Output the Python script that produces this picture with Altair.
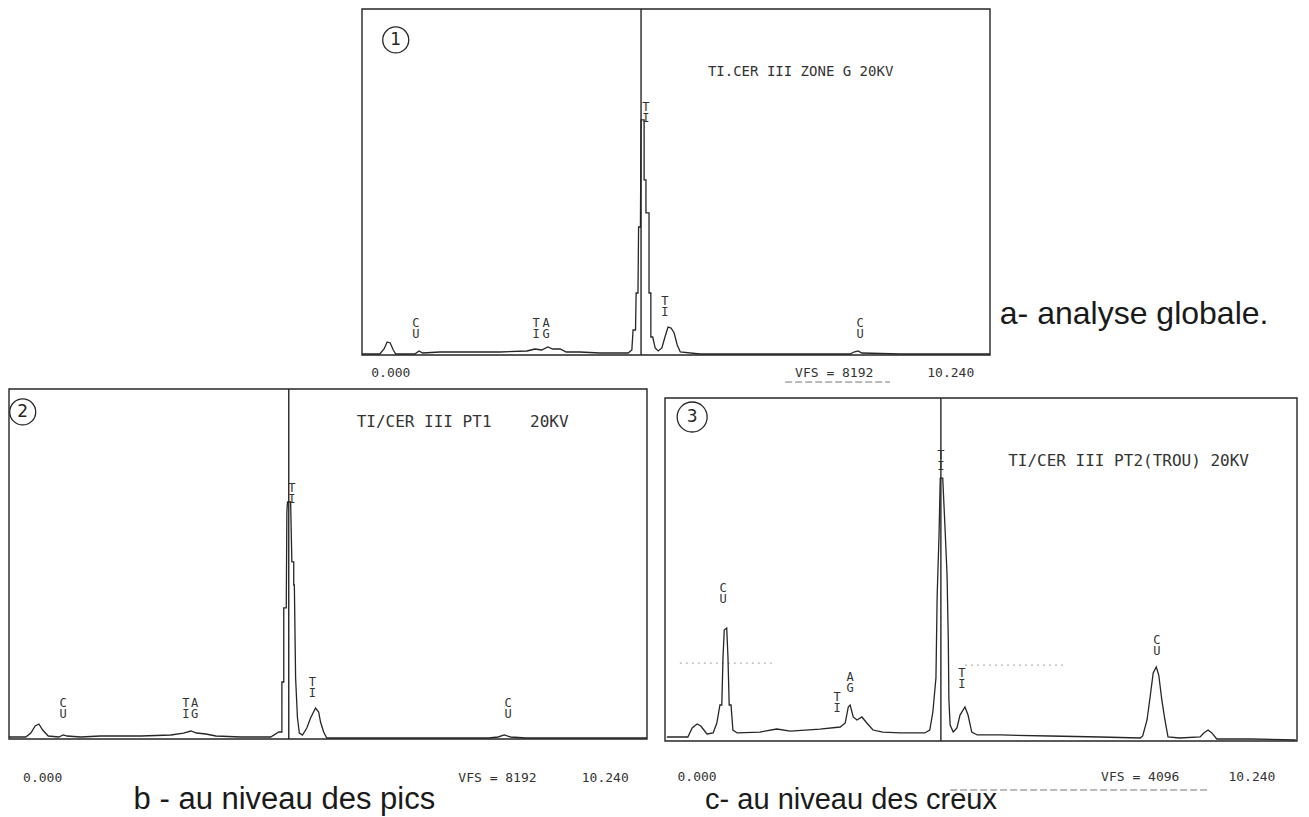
import altair as alt
import pandas as pd

KEV_MAX = 10.24
NB = "\u00a0"

# ---------------- Panel 1 : analyse globale (VFS 8192) ----------------
P1_VFS = 8192
P1_CURSOR = 4.55
P1_E = [0.00, 0.29, 0.36, 0.41, 0.46, 0.51, 0.55, 0.86, 0.93, 0.99, 1.27, 1.76, 2.25, 2.69,
        2.82, 2.93, 3.03, 3.11, 3.23, 3.33, 3.55, 3.88, 4.34, 4.40, 4.42, 4.46, 4.47, 4.50,
        4.51, 4.54, 4.55, 4.60, 4.60, 4.63, 4.63, 4.68, 4.68, 4.71, 4.71, 4.74, 4.78, 4.83,
        4.89, 4.94, 4.99, 5.04, 5.09, 5.14, 5.19, 5.51, 6.82, 7.96, 8.02, 8.09, 8.15, 8.77,
        9.59, 10.24]
P1_C = [24, 24, 142, 308, 284, 118, 24, 24, 95, 47, 71, 71, 71, 95,
        142, 118, 189, 142, 142, 71, 71, 47, 47, 118, 592, 592, 1468, 1468,
        3031, 3031, 5565, 5565, 4144, 4144, 3363, 3363, 1468, 1468, 426, 426, 166, 95,
        166, 426, 663, 639, 521, 237, 71, 24, 24, 24, 71, 95, 47, 24,
        24, 24]
P1_LABEL_T = ["C\nU", "T\nI", "A\nG", "T\nI", "T\nI", "C\nU"]
P1_LABEL_E = [0.88, 2.84, 3.00, 4.63, 4.94, 8.12]
P1_LABEL_C = [758, 758, 758, 5873, 1279, 758]
P1_TITLE = "TI.CER III ZONE G 20KV"
P1_TITLE_E, P1_TITLE_C = 5.64, 6701
P1_NUM, P1_NUM_E, P1_NUM_C = "1", 0.55, 7459
P1_END_T = ["0.000", "VFS = 8192", "10.240"]
P1_END_E = [0.47, 7.70, 9.60]
P1_END_C = [-426, -426, -426]
P1_UNDER_E0, P1_UNDER_E1, P1_UNDER_C = [6.90], [8.61], [-640]
P1_CAPTION, P1_CAP_E, P1_CAP_C = "a- analyse globale.", 10.40, 734

# ---------------- Panel 2 : au niveau des pics (VFS 8192) ----------------
P2_VFS = 8192
P2_CURSOR = 4.49
P2_E = [0.00, 0.27, 0.35, 0.42, 0.48, 0.54, 0.63, 0.80, 0.87, 0.93, 1.15, 1.47, 1.79, 2.12,
        2.60, 2.80, 2.92, 3.01, 3.16, 3.32, 3.72, 4.20, 4.33, 4.38, 4.38, 4.41, 4.41, 4.45,
        4.46, 4.47, 4.52, 4.54, 4.57, 4.57, 4.58, 4.60, 4.63, 4.66, 4.71, 4.78, 4.84, 4.92,
        4.97, 5.00, 5.05, 5.10, 5.40, 6.50, 7.70, 7.85, 7.95, 8.05, 8.30, 9.50, 10.24]
P2_C = [47, 47, 140, 304, 351, 211, 70, 47, 94, 70, 47, 70, 70, 70,
        94, 140, 187, 140, 117, 70, 47, 47, 164, 164, 1334, 1334, 3067, 3067,
        5314, 5548, 5548, 4144, 4144, 3605, 3605, 1428, 492, 140, 94, 258, 492, 726,
        632, 398, 164, 23, 23, 23, 23, 47, 94, 47, 23, 23, 23]
P2_LABEL_T = ["C\nU", "T\nI", "A\nG", "T\nI", "T\nI", "C\nU"]
P2_LABEL_E = [0.87, 2.84, 2.98, 4.54, 4.87, 8.01]
P2_LABEL_C = [843, 843, 843, 5876, 1334, 843]
P2_TITLE = "TI/CER III PT1" + NB * 4 + "20KV"
P2_TITLE_E, P2_TITLE_C = 5.58, 7421
P2_NUM, P2_NUM_E, P2_NUM_C = "2", 0.22, 7655
P2_END_T = ["0.000", "VFS = 8192", "10.240"]
P2_END_E = [0.54, 7.84, 9.57]
P2_END_C = [-913, -913, -913]
P2_CAPTION, P2_CAP_E, P2_CAP_C = "b - au niveau des pics", 2.00, -1639

# ---------------- Panel 3 : au niveau des creux (VFS 4096) ----------------
P3_VFS = 4096
P3_CURSOR = 4.47
P3_E = [0.03, 0.37, 0.44, 0.52, 0.58, 0.68, 0.78, 0.84, 0.89, 0.92, 0.94, 0.96, 1.00, 1.02,
        1.04, 1.07, 1.10, 1.17, 1.54, 1.81, 2.03, 2.51, 2.84, 2.92, 2.97, 3.00, 3.05, 3.11,
        3.19, 3.27, 3.37, 3.53, 3.81, 4.21, 4.29, 4.34, 4.39, 4.41, 4.44, 4.46, 4.50, 4.54,
        4.57, 4.59, 4.60, 4.62, 4.67, 4.73, 4.78, 4.86, 4.91, 4.97, 5.06, 5.43, 6.24, 7.05,
        7.70, 7.74, 7.81, 7.86, 7.91, 7.96, 8.00, 8.05, 8.10, 8.15, 8.34, 8.67, 8.73, 8.80,
        8.86, 8.94, 9.48, 10.22]
P3_C = [48, 48, 155, 203, 179, 84, 96, 215, 430, 430, 1003, 1325, 1349, 1003,
        430, 430, 131, 96, 107, 143, 119, 143, 167, 215, 406, 430, 287, 251,
        287, 215, 131, 107, 96, 96, 131, 346, 752, 1743, 2460, 3140, 3140, 2495,
        1982, 1206, 490, 191, 107, 155, 310, 406, 310, 107, 72, 72, 60, 48,
        36, 60, 251, 525, 812, 884, 788, 490, 251, 48, 36, 48, 96, 131,
        96, 24, 24, 12]
P3_LABEL_T = ["C\nU", "T\nI", "A\nG", "T\nI", "T\nI", "C\nU"]
P3_LABEL_E = [0.94, 2.79, 3.00, 4.47, 4.81, 7.97]
P3_LABEL_C = [1827, 525, 764, 3415, 812, 1206]
P3_TITLE = "TI/CER III PT2(TROU) 20KV"
P3_TITLE_E, P3_TITLE_C = 5.56, 3343
P3_NUM, P3_NUM_E, P3_NUM_C = "3", 0.44, 3869
P3_END_T = ["0.000", "VFS = 4096", "10.240"]
P3_END_E = [0.52, 7.70, 9.51]
P3_END_C = [-430, -430, -430]
P3_UNDER_E0, P3_UNDER_E1, P3_UNDER_C = [4.62], [8.83], [-585]
P3_CAPTION, P3_CAP_E, P3_CAP_C = "c- au niveau des creux", 0.65, -812
P3_DOT_E0 = [0.24, 4.86]
P3_DOT_E1 = [1.78, 6.48]
P3_DOT_C = [931, 907]

INK = "#262626"
TXT = "#333333"
MONO = "DejaVu Sans Mono"
SANS = "Liberation Sans"


def panel(E, C, vfs, cursor, lt, le, lc, title, te, tc, title_size, num, ne, nc, num_d,
          end_t, end_e, end_c, under, cap, cap_e, cap_c, cap_size, xr, yr, dots=None):
    assert len(E) == len(C)
    xs = alt.Scale(domain=[0, KEV_MAX], range=xr, nice=False, zero=False)
    ys = alt.Scale(domain=[0, vfs], range=yr, nice=False, zero=False)

    def X(f):
        return alt.X(f"{f}:Q", scale=xs, axis=None)

    def Y(f):
        return alt.Y(f"{f}:Q", scale=ys, axis=None)

    frame = alt.Chart(pd.DataFrame({"e0": [0], "e1": [KEV_MAX], "c0": [0], "c1": [vfs]})).mark_rect(
        fillOpacity=0, stroke=INK, strokeWidth=1.4
    ).encode(x=X("e0"), x2="e1", y=Y("c0"), y2="c1")

    cur = alt.Chart(pd.DataFrame({"e": [cursor], "c0": [0], "c1": [vfs]})).mark_rule(
        color=INK, strokeWidth=1.4
    ).encode(x=X("e"), y=Y("c0"), y2="c1")

    spec = alt.Chart(pd.DataFrame({"e": E, "c": C, "i": list(range(len(E)))})).mark_line(
        color=INK, strokeWidth=1.3
    ).encode(x=X("e"), y=Y("c"), order="i:Q")

    labels = alt.Chart(pd.DataFrame({"t": lt, "e": le, "c": lc})).mark_text(
        font=MONO, fontSize=12, lineBreak="\n", lineHeight=11, color=TXT, align="center", baseline="middle"
    ).encode(x=X("e"), y=Y("c"), text="t:N")

    ttl = alt.Chart(pd.DataFrame({"t": [title], "e": [te], "c": [tc]})).mark_text(
        font=MONO, fontSize=title_size, color=TXT, align="left", baseline="middle"
    ).encode(x=X("e"), y=Y("c"), text="t:N")

    circ = alt.Chart(pd.DataFrame({"e": [ne], "c": [nc]})).mark_point(
        shape="circle", size=num_d * num_d, filled=False, stroke=INK, strokeWidth=1.3, opacity=1
    ).encode(x=X("e"), y=Y("c"))

    numt = alt.Chart(pd.DataFrame({"t": [num], "e": [ne], "c": [nc]})).mark_text(
        font="DejaVu Sans", fontSize=17, color=INK, align="center", baseline="middle"
    ).encode(x=X("e"), y=Y("c"), text="t:N")

    ends = alt.Chart(pd.DataFrame({"t": end_t, "e": end_e, "c": end_c})).mark_text(
        font=MONO, fontSize=13, color=TXT, align="center", baseline="middle"
    ).encode(x=X("e"), y=Y("c"), text="t:N")

    capt = alt.Chart(pd.DataFrame({"t": [cap], "e": [cap_e], "c": [cap_c]})).mark_text(
        font=SANS, fontSize=cap_size, color="#1a1a1a", align="left", baseline="alphabetic"
    ).encode(x=X("e"), y=Y("c"), text="t:N")

    layers = [frame, cur, spec, labels, ttl, circ, numt, ends, capt]
    if under is not None:
        u0, u1, uc = under
        ul = alt.Chart(pd.DataFrame({"e0": u0, "e1": u1, "c": uc})).mark_rule(
            color="#777777", strokeWidth=1.0, strokeDash=[7, 3]
        ).encode(x=X("e0"), x2="e1", y=Y("c"))
        layers.append(ul)
    if dots is not None:
        d0, d1, dc = dots
        dl = alt.Chart(pd.DataFrame({"e0": d0, "e1": d1, "c": dc})).mark_rule(
            color="#b5b5b5", strokeWidth=1.2, strokeDash=[2, 4]
        ).encode(x=X("e0"), x2="e1", y=Y("c"))
        layers.insert(1, dl)
    return alt.layer(*layers)


p1 = panel(P1_E, P1_C, P1_VFS, P1_CURSOR, P1_LABEL_T, P1_LABEL_E, P1_LABEL_C,
           P1_TITLE, P1_TITLE_E, P1_TITLE_C, 14, P1_NUM, P1_NUM_E, P1_NUM_C, 26,
           P1_END_T, P1_END_E, P1_END_C, (P1_UNDER_E0, P1_UNDER_E1, P1_UNDER_C),
           P1_CAPTION, P1_CAP_E, P1_CAP_C, 32,
           xr=[354, 982], yr=[347, 1])
p2 = panel(P2_E, P2_C, P2_VFS, P2_CURSOR, P2_LABEL_T, P2_LABEL_E, P2_LABEL_C,
           P2_TITLE, P2_TITLE_E, P2_TITLE_C, 16, P2_NUM, P2_NUM_E, P2_NUM_C, 26,
           P2_END_T, P2_END_E, P2_END_C, None,
           P2_CAPTION, P2_CAP_E, P2_CAP_C, 31,
           xr=[1, 639], yr=[731, 381])
p3 = panel(P3_E, P3_C, P3_VFS, P3_CURSOR, P3_LABEL_T, P3_LABEL_E, P3_LABEL_C,
           P3_TITLE, P3_TITLE_E, P3_TITLE_C, 16, P3_NUM, P3_NUM_E, P3_NUM_C, 30,
           P3_END_T, P3_END_E, P3_END_C, (P3_UNDER_E0, P3_UNDER_E1, P3_UNDER_C),
           P3_CAPTION, P3_CAP_E, P3_CAP_C, 29,
           xr=[657, 1289], yr=[733, 390], dots=(P3_DOT_E0, P3_DOT_E1, P3_DOT_C))

chart = alt.layer(p1, p2, p3).resolve_scale(x="independent", y="independent").properties(
    width=1293, height=809, padding=0, autosize=alt.AutoSizeParams(type="none"),
    background="white"
).configure_view(stroke=None)

chart.save("out.html", embed_options={"renderer": "svg", "actions": False})
